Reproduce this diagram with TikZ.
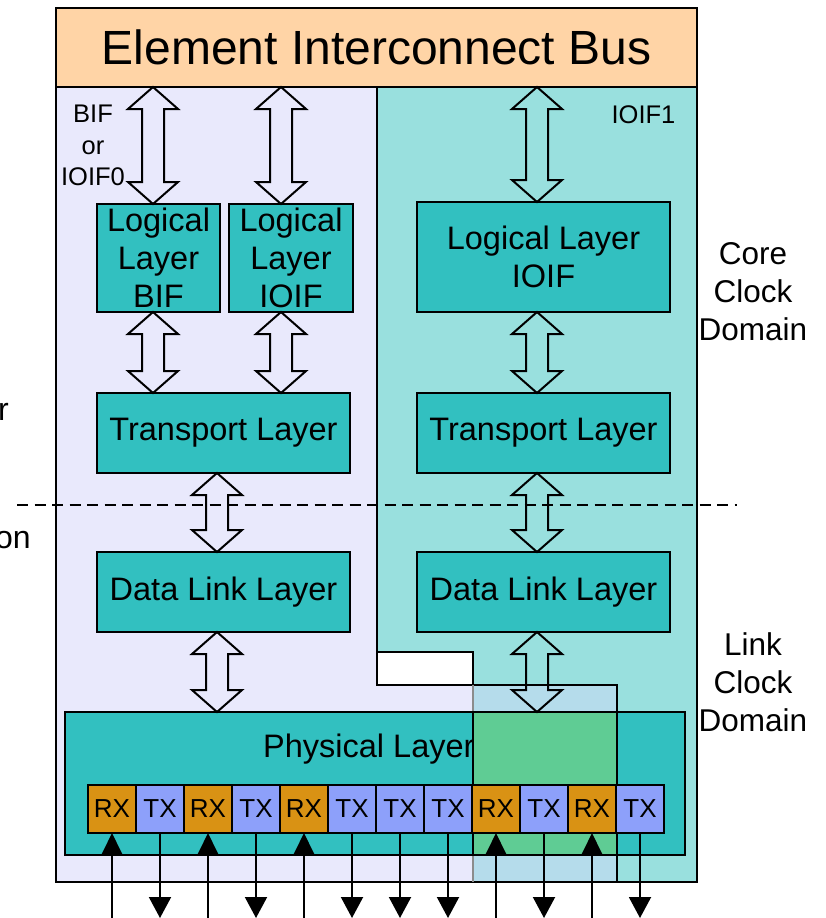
\documentclass[tikz,border=0pt]{standalone}
\usepackage{fontspec}
\setmainfont{Liberation Sans}
\usetikzlibrary{arrows.meta,calc}

\definecolor{eibfill}{HTML}{FFD4A6}
\definecolor{bifpanel}{HTML}{E9E9FC}
\definecolor{ioifpanel}{HTML}{99E0DE}
\definecolor{sharedpanel}{HTML}{B5DCEB}
\definecolor{layerfill}{HTML}{32C0C0}
\definecolor{sharedphy}{HTML}{5FCC94}
\definecolor{rx}{HTML}{D99214}
\definecolor{tx}{HTML}{8DA0FA}

% hollow double-headed arrow at horizontal position #1 between two anchors
\newcommand\hollowarrow[3]{%
  \draw[hollow] let \p1=(#2), \p2=(#3) in
    (#1pt,\y1) -- (#1pt+25pt,\y1-22pt) -- (#1pt+11pt,\y1-22pt)
    -- (#1pt+11pt,\y2+22pt) -- (#1pt+25pt,\y2+22pt) -- (#1pt,\y2)
    -- (#1pt-25pt,\y2+22pt) -- (#1pt-11pt,\y2+22pt)
    -- (#1pt-11pt,\y1-22pt) -- (#1pt-25pt,\y1-22pt) -- cycle;}

\begin{document}
\begin{tikzpicture}[x=1pt,y=-1pt,
  layerbox/.style={draw, line width=2pt, fill=layerfill, inner sep=0pt, outer sep=0pt,
    align=center, font=\fontsize{32.5}{38}\selectfont},
  lanebox/.style={draw, line width=1.8pt, minimum width=48pt, minimum height=48pt,
    inner sep=0pt, outer sep=0pt, font=\fontsize{26}{30}\selectfont},
  hollow/.style={draw, line width=2pt, line join=miter},
  panelline/.style={line width=2.2pt},
  wire/.style={line width=2pt},
  rxtip/.style={-{Triangle[length=21pt,width=20pt]}},
  txtip/.style={-{Triangle[length=21pt,width=22pt]}},
  domainlabel/.style={align=center, inner sep=0pt, font=\fontsize{31.5}{38}\selectfont},
  iflabel/.style={align=center, inner sep=0pt, font=\fontsize{25.5}{31.5}\selectfont},
  boundary/.style={line width=2.4pt, dash pattern=on 11pt off 6.5pt}]

\useasboundingbox (0,0) rectangle (825,918);

% panel fills
\fill[bifpanel] (56,87) -- (377,87) -- (377,685) -- (617,685) -- (617,882) -- (56,882) -- cycle;
\fill[ioifpanel] (377,87) -- (697,87) -- (697,882) -- (473,882) -- (473,652) -- (377,652) -- cycle;
\fill[sharedpanel] (473,685) rectangle (617,882);

% panel outlines
\draw[panelline] (56,87) -- (56,882) -- (697,882) -- (697,87);
\draw[panelline] (377,87) -- (377,685) -- (617,685) -- (617,882);
\draw[panelline] (377,652) -- (473,652) -- (473,685);
\draw[line width=1.2pt, black!45] (473,685) -- (473,882);

% Element Interconnect Bus
\node[draw, line width=2pt, fill=eibfill, minimum width=641pt, minimum height=79pt,
  inner sep=0pt, outer sep=0pt, font=\fontsize{48}{56}\selectfont] (eib) at (376.5,47.5)
  {Element Interconnect Bus};

% protocol layers
\node[layerbox, minimum width=123pt, minimum height=108pt] (lbif) at (158.5,258) {Logical\\Layer\\BIF};
\node[layerbox, minimum width=124pt, minimum height=108pt] (lioif) at (291,258) {Logical\\Layer\\IOIF};
\node[layerbox, minimum width=253pt, minimum height=110pt] (rlog) at (543.5,257) {Logical Layer\\IOIF};
\node[layerbox, minimum width=253pt, minimum height=80pt] (ltrans) at (223.5,433) {Transport Layer};
\node[layerbox, minimum width=253pt, minimum height=80pt] (rtrans) at (543.5,433) {Transport Layer};
\node[layerbox, minimum width=253pt, minimum height=80pt] (ldl) at (223.5,592) {Data Link Layer};
\node[layerbox, minimum width=253pt, minimum height=80pt] (rdl) at (543.5,592) {Data Link Layer};

% physical layer with the shared portion
\node[layerbox, minimum width=620pt, minimum height=143pt] (phy) at (375,783.5) {};
\node[anchor=base west, inner sep=0pt, font=\fontsize{32.5}{38}\selectfont] (phylabel) at (263,757) {Physical Layer};
\draw[line width=2pt, fill=sharedphy] (473,712) rectangle (617,855);

% lanes
\foreach \i/\c/\t in {1/rx/RX,2/tx/TX,3/rx/RX,4/tx/TX,5/rx/RX,6/tx/TX,
                      7/tx/TX,8/tx/TX,9/rx/RX,10/tx/TX,11/rx/RX,12/tx/TX}
  \node[lanebox, fill=\c] (lane\i) at ({64+48*\i},809) {\t};

\foreach \i in {1,3,5,9,11}{
  \coordinate (in\i) at ({64+48*\i},925);
  \draw[wire, rxtip] (in\i) -- (lane\i.south);}
\foreach \i in {2,4,6,7,8,10,12}{
  \coordinate (out\i) at ({64+48*\i},918);
  \draw[wire, txtip] (lane\i.south) -- (out\i);}

% hollow interface arrows
\hollowarrow{153}{eib.south}{lbif.north}
\hollowarrow{281}{eib.south}{lioif.north}
\hollowarrow{537}{eib.south}{rlog.north}
\hollowarrow{153}{lbif.south}{ltrans.north}
\hollowarrow{281}{lioif.south}{ltrans.north}
\hollowarrow{537}{rlog.south}{rtrans.north}
\hollowarrow{217}{ltrans.south}{ldl.north}
\hollowarrow{537}{rtrans.south}{rdl.north}
\hollowarrow{217}{ldl.south}{phy.north}
\hollowarrow{537}{rdl.south}{phy.north}

% clock domain boundary
\draw[boundary] (17,505) -- (737,505);

% labels
\node[iflabel] (bifname) at (93,145.5) {BIF\\or\\IOIF0};
\node[anchor=base, inner sep=0pt, font=\fontsize{25.5}{30}\selectfont] (ioifname) at (643.5,123) {IOIF1};
\node[domainlabel] (coredom) at (753,292) {Core\\Clock\\Domain};
\node[domainlabel] (linkdom) at (753,682) {Link\\Clock\\Domain};
\node[anchor=base east, inner sep=0pt, font=\fontsize{32}{38}\selectfont] (lefta) at (9,420) {r};
\node[anchor=base east, inner sep=0pt, font=\fontsize{32}{38}\selectfont] (leftb) at (31,548) {on};
\end{tikzpicture}
\end{document}
